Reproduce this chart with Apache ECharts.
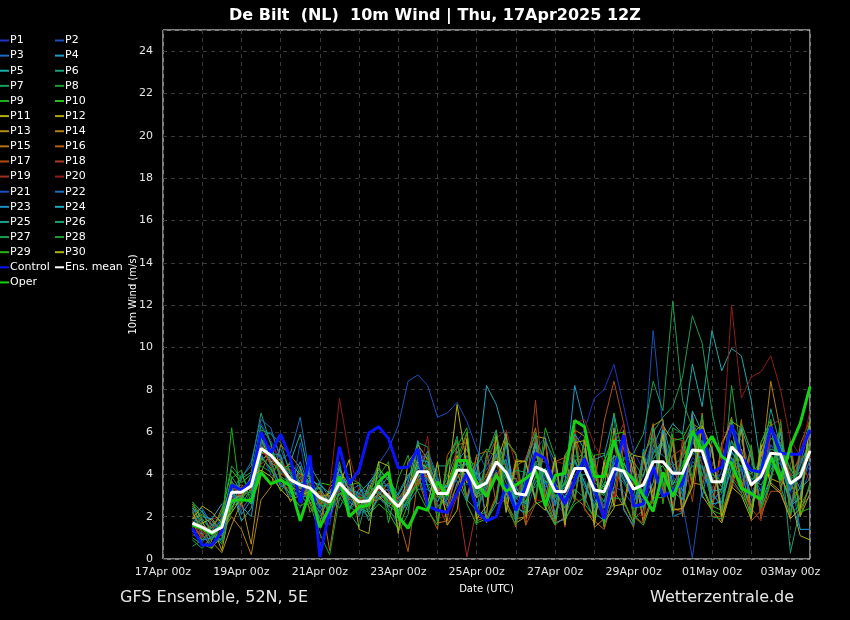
<!DOCTYPE html>
<html><head><meta charset="utf-8">
<script src="https://cdn.jsdelivr.net/npm/echarts@6/dist/echarts.min.js"></script>
<style>html,body{margin:0;padding:0;background:#000;}#c{width:850px;height:620px;}</style>
</head><body><div id="c"></div>
<script>
// Times: 6-hourly from 17Apr 18z (hours since 17Apr 00z)
const stepHours = 6, firstHour = 18, nSteps = 64;
const hours = Array.from({length: nSteps}, (_, i) => firstHour + stepHours * i);
const tickLabels = ['17Apr 00z','19Apr 00z','21Apr 00z','23Apr 00z','25Apr 00z','27Apr 00z','29Apr 00z','01May 00z','03May 00z'];
const memberNames = ['P1','P2','P3','P4','P5','P6','P7','P8','P9','P10','P11','P12','P13','P14','P15','P16','P17','P18','P19','P20','P21','P22','P23','P24','P25','P26','P27','P28','P29','P30'];
const memberColors = ['#2232c4','#1a4fb8','#1a6cc0','#1a9cc8','#1aacac','#1a9f7a','#1a9e5a','#1aa03a','#1ab01a','#28c010','#b4b010','#b4a410','#b49010','#b48010','#b47014','#b46014','#b04e14','#a84020','#a03020','#901c1c','#1a52c0','#1a70c0','#1a90c4','#1aa8c0','#1aa090','#1aa070','#1aa050','#1aa030','#22b514','#b0b010'];

const P1 = [1.4,0.6,0.9,1.8, 3.6,2.9,3.8,6.4, 5.6,4.6,3.2,2.4, 3.8,2.2,1.6,4.2, 3.5,2.1,2.4,4.0, 3.3,1.9,2.8,3.6, 4.6,2.4,3.0,4.8, 4.4,2.6,3.1,5.2, 4.9,3.6,2.5,5.1, 5.8,4.1,3.9,5.4, 6.1,7.6,8.0,9.2, 7.2,5.1,4.2,5.8, 5.2,3.9,3.4,4.8, 4.4,2.8,3.1,4.6, 4.1,2.9,3.3,5.4, 5.0,3.1,3.6,4.4];
const P2 = [2.0,1.1,0.7,1.2, 2.9,3.4,2.6,5.8, 6.0,4.9,3.5,4.1, 3.0,2.4,2.1,3.1, 2.6,3.3,3.1,2.9, 2.4,1.6,3.8,4.6, 3.7,3.4,2.6,3.9, 3.5,4.0,3.2,4.2, 3.4,2.6,2.0,3.7, 3.6,2.7,2.1,3.6, 3.8,2.2,2.8,3.4, 3.2,2.5,4.6,10.8, 6.2,3.9,2.6,0.05, 3.4,2.4,2.9,4.3, 3.9,2.7,3.1,4.5, 4.1,2.6,3.0,4.2];
const P3 = [1.6,1.9,1.4,0.8, 2.6,3.1,3.9,5.6, 4.4,5.2,4.1,3.9, 2.9,3.4,2.2,2.8, 3.8,2.0,3.6,3.9, 3.4,2.9,2.3,4.9, 4.8,3.7,2.6,3.4, 4.9,3.8,4.4,5.3, 3.9,2.8,3.5,5.0, 3.7,2.2,3.0,3.7, 4.8,2.9,1.9,4.1, 3.6,2.8,3.3,5.1, 5.4,3.6,2.8,4.6, 4.3,3.1,4.2,6.3, 5.6,4.1,3.2,4.4, 4.8,4.0,1.4,1.4];
const P4 = [2.4,1.7,1.2,1.9, 3.0,2.5,2.0,4.9, 4.2,3.6,3.1,4.4, 2.6,3.1,2.2,3.5, 2.3,3.3,2.9,3.3, 3.9,2.8,3.6,5.6, 3.4,2.5,2.8,4.6, 5.2,3.9,3.1,4.0, 3.3,2.2,3.8,5.6, 4.7,2.6,3.6,8.2, 6.3,3.1,2.4,4.9, 3.8,2.7,4.0,5.3, 6.4,4.5,3.2,5.6, 4.5,2.7,3.3,5.1, 4.3,2.1,4.4,6.1, 4.6,3.2,4.4,5.6];
const P5 = [1.3,1.2,1.6,2.1, 3.4,1.8,2.4,4.6, 5.1,4.0,4.6,5.9, 3.7,2.5,3.2,3.9, 2.7,2.4,2.2,2.9, 3.1,2.0,3.3,3.8, 4.5,3.2,3.5,4.4, 3.9,2.9,4.6,5.7, 4.4,3.4,2.6,3.9, 3.6,3.6,2.9,3.8, 4.0,3.8,3.4,3.9, 4.5,3.7,2.9,5.0, 5.6,6.4,5.9,9.2, 7.2,10.8,8.9,9.95, 9.6,7.5,4.3,4.8, 4.1,2.6,3.4,4.7];
const P6 = [2.7,2.2,1.8,1.3, 2.2,3.9,4.4,6.9, 5.4,3.9,3.6,2.7, 4.4,3.6,2.9,2.4, 3.4,2.9,1.8,3.2, 2.6,3.1,4.0,4.3, 3.9,2.7,3.9,5.1, 3.6,4.1,3.3,3.9, 4.7,2.4,3.4,4.6, 4.6,3.6,2.4,4.7, 3.6,2.5,3.6,3.8, 4.8,4.6,3.9,5.7, 3.9,4.4,4.8,5.7, 6.1,3.2,2.4,4.8, 3.7,2.3,4.8,6.3, 5.3,0.3,2.4,3.0];
const P7 = [0.9,0.5,1.1,1.7, 3.9,3.2,3.0,6.1, 5.9,5.5,4.0,3.1, 2.4,2.0,2.9,4.6, 2.2,1.5,3.2,4.1, 2.3,1.8,2.9,4.4, 4.4,3.6,3.4,3.8, 4.6,3.1,3.8,4.8, 3.6,2.9,3.2,3.4, 4.3,2.9,3.4,4.9, 4.5,3.4,2.7,4.6, 3.7,3.0,4.8,6.0, 6.7,7.2,8.6,11.5, 10.2,7.0,4.7,6.1, 4.6,3.8,3.5,4.2, 5.2,3.9,4.1,5.6];
const P8 = [2.5,1.5,0.6,1.0, 3.1,4.0,3.1,5.4, 4.6,4.1,4.4,3.6, 3.2,3.4,2.5,3.3, 3.0,2.6,2.3,3.7, 2.7,2.2,3.0,3.4, 4.9,3.8,2.8,4.0, 4.0,3.2,3.4,5.4, 4.3,3.3,2.9,4.9, 4.0,2.9,3.6,3.9, 4.9,3.3,3.0,4.5, 4.0,3.9,3.1,5.0, 5.4,4.0,4.6,4.9, 5.6,3.9,3.1,8.2, 4.9,3.8,3.9,4.5, 5.4,3.3,4.9,6.5];
const P9 = [1.8,1.4,1.0,1.6, 6.2,2.6,3.3,4.8, 4.3,4.6,3.1,3.9, 3.6,2.6,3.2,3.0, 3.8,3.6,3.0,3.6, 2.9,2.1,2.7,3.6, 3.5,2.9,3.5,4.7, 6.0,2.1,2.2,5.3, 2.7,1.8,4.5,2.9, 6.2,4.8,1.9,2.6, 2.9,4.9,5.0,2.7, 5.7,1.9,2.3,6.3, 2.6,5.9,2.3,3.7, 6.8,2.5,2.3,6.6, 3.2,5.4,2.2,3.9, 4.9,3.9,2.0,3.6];
const P10 = [2.2,1.3,1.5,2.2, 4.2,3.6,4.0,5.0, 5.2,3.8,3.0,2.5, 2.8,3.6,3.5,4.2, 3.5,3.6,2.1,2.6, 2.2,1.4,2.6,3.9, 4.2,2.2,3.2,4.1, 4.7,4.4,5.2,4.8, 3.8,3.8,2.7,3.9, 3.7,3.4,3.5,4.6, 5.1,3.6,3.3,6.9, 4.6,3.4,3.0,4.2, 4.4,3.5,4.4,6.0, 6.3,4.1,3.4,4.6, 4.4,4.0,4.6,5.7, 5.5,4.2,4.6,5.3];
const P11 = [1.5,1.7,1.9,1.3, 2.4,3.3,3.8,5.7, 4.6,4.7,3.4,3.2, 3.0,3.1,2.6,4.3, 3.2,2.2,3.5,3.0, 2.5,2.9,3.3,4.6, 4.3,3.3,3.4,7.3, 4.4,2.9,3.3,4.5, 5.9,1.7,2.0,5.4, 2.5,1.6,4.7,5.9, 2.8,4.6,1.7,2.4, 5.8,4.5,1.8,3.0, 6.0,2.1,5.3,6.1, 3.0,2.3,1.7,3.4, 6.2,2.2,5.2,6.4, 3.9,2.9,1.1,0.9];
const P12 = [1.9,2.1,1.6,0.4, 2.8,3.0,3.6,4.7, 5.0,4.2,4.5,4.0, 3.9,3.3,2.0,3.7, 3.1,2.8,2.6,3.1, 2.8,2.3,3.2,5.4, 4.7,3.0,3.6,4.9, 3.6,3.7,3.1,4.1, 3.0,4.5,1.6,5.8, 5.7,1.8,4.9,2.9, 5.6,4.5,1.5,6.2, 2.7,1.7,5.0,3.1, 6.3,5.6,2.2,6.2, 3.4,2.3,5.4,6.5, 6.2,1.9,5.1,3.8, 3.6,5.1,2.1,6.6];
const P13 = [2.6,1.8,0.8,0.3, 1.6,2.7,0.7,4.1, 5.1,3.9,2.7,3.4, 2.7,1.7,3.4,3.8, 2.9,2.4,3.3,4.3, 3.7,2.7,3.4,4.4, 3.8,3.0,2.5,4.1, 2.8,4.9,1.7,2.9, 6.0,1.9,2.0,5.6, 2.9,4.8,1.6,6.1, 5.8,1.5,1.9,3.2, 2.5,4.4,1.7,6.3, 6.6,2.2,5.6,3.6, 3.5,2.4,5.5,6.4, 3.6,2.3,5.0,3.6, 3.2,5.3,2.0,3.1];
const P14 = [2.3,1.2,0.5,1.3, 2.0,1.4,0.2,2.8, 3.4,5.4,4.9,4.3, 2.2,2.8,3.0,3.2, 2.4,3.0,2.5,3.0, 3.6,2.6,2.9,3.7, 4.0,3.4,2.1,3.6, 3.8,3.0,4.0,5.0, 2.6,4.7,4.6,2.8, 5.6,1.7,1.9,5.9, 2.4,1.7,4.4,2.7, 6.1,1.8,5.0,2.6, 3.3,5.5,2.0,6.4, 6.1,5.2,1.8,3.3, 5.2,3.4,4.2,8.4, 6.0,3.5,2.8,5.6];
const P15 = [1.7,0.9,1.3,2.4, 3.3,3.5,3.2,5.3, 4.5,4.4,4.2,3.8, 3.0,3.2,0.4,3.4, 3.3,2.5,2.7,2.8, 3.1,2.2,3.5,4.0, 5.1,1.7,1.8,5.4, 5.5,1.8,2.0,6.1, 2.3,4.4,4.7,6.2, 3.0,1.7,4.4,2.9, 2.5,4.9,1.8,5.7, 2.4,1.5,4.6,6.4, 3.2,5.6,2.3,3.5, 6.9,2.4,5.3,6.7, 3.3,5.2,1.9,3.7, 6.2,1.9,5.0,6.0];
const P16 = [2.1,1.6,1.2,1.1, 3.7,2.8,3.5,5.0, 4.9,4.3,3.6,3.7, 3.4,2.7,2.6,3.5, 2.8,2.9,2.4,3.5, 3.2,2.0,0.35,3.8, 2.4,1.4,4.9,5.6, 2.9,4.9,5.1,2.6, 2.8,1.5,4.6,5.9, 2.7,4.6,4.8,2.7, 5.7,1.8,1.4,3.0, 5.3,4.9,1.9,2.8, 6.1,2.4,2.3,6.9, 3.4,5.2,2.2,3.7, 6.6,1.8,2.3,6.5, 3.3,5.6,2.3,3.4];
const P17 = [1.4,1.1,1.7,1.9, 3.0,3.4,3.3,4.5, 4.8,4.0,3.9,3.3, 3.5,2.6,2.8,3.9, 3.0,2.7,3.1,3.6, 2.9,2.6,3.1,3.9, 3.9,3.3,3.3,4.4, 5.9,2.0,1.9,3.0, 5.6,4.9,1.6,2.6, 5.6,1.6,2.0,5.8, 4.6,3.5,6.5,8.4, 6.4,3.5,3.6,4.5, 3.0,5.7,5.6,3.4, 6.7,2.0,2.0,3.6, 6.4,5.1,2.1,3.2, 3.2,2.0,5.4,6.6];
const P18 = [1.1,1.4,1.5,1.6, 2.9,3.1,3.7,5.4, 4.4,3.5,3.3,2.9, 3.1,3.0,2.4,3.7, 3.4,2.3,2.6,3.3, 2.7,2.9,3.4,3.5, 4.2,3.5,3.0,4.0, 3.7,3.5,3.9,4.8, 4.4,3.8,2.9,7.5, 2.4,1.6,4.6,6.3, 2.6,4.8,2.0,2.6, 5.5,2.0,1.7,5.9, 2.8,4.9,5.2,2.7, 6.3,2.2,5.4,3.6, 3.1,5.0,2.0,6.0, 5.7,3.9,4.9,4.6];
const P19 = [1.8,1.0,1.9,2.0, 3.2,2.4,2.9,5.5, 5.3,4.8,3.8,4.0, 3.3,3.1,2.9,3.2, 3.6,3.0,2.9,3.6, 3.0,2.5,3.5,4.1, 4.3,2.6,1.6,3.0, 0.1,2.4,3.2,4.6, 2.5,1.6,4.8,5.6, 2.6,4.5,1.5,6.0, 2.3,1.9,4.4,5.4, 6.4,2.0,1.6,3.0, 6.3,2.4,2.2,6.8, 3.6,5.4,2.0,3.9, 3.3,2.4,1.8,6.3, 6.6,2.5,4.8,3.6];
const P20 = [1.6,1.3,1.0,1.4, 3.4,3.0,3.4,5.3, 4.7,4.2,3.5,3.4, 3.6,2.8,3.3,7.6, 4.9,3.2,2.7,3.4, 2.9,2.8,3.0,3.9, 5.8,1.9,2.1,5.6, 2.6,1.7,4.6,5.7, 6.1,4.4,1.8,2.8, 2.7,4.6,4.5,6.4, 6.6,5.4,4.6,2.8, 5.5,2.2,2.0,6.0, 3.4,2.4,5.6,6.2, 4.5,3.2,4.8,12.0, 7.6,8.6,8.85,9.6, 8.0,5.6,4.9,7.0];
const P21 = [1.2,0.8,1.3,2.0, 3.2,2.3,3.0,5.0, 4.0,3.6,2.9,5.5, 2.8,3.7,1.9,3.3, 2.9,2.2,3.4,4.5, 5.2,6.3,8.4,8.7, 8.2,6.7,6.9,7.4, 6.5,5.2,4.2,5.0, 3.9,2.4,3.6,4.0, 3.4,3.9,2.8,3.5, 4.5,3.4,2.5,4.6, 4.0,2.8,3.3,4.3, 3.6,3.9,4.5,5.0, 4.8,3.8,4.0,4.7, 4.3,3.6,4.1,5.4, 4.6,3.4,3.8,4.6];
const P22 = [2.2,2.4,1.6,1.5, 2.7,3.8,4.6,6.6, 6.2,4.7,5.0,6.7, 3.9,2.4,2.8,3.5, 3.2,3.5,2.5,3.1, 3.3,2.7,3.4,4.3, 5.1,3.9,2.4,3.2, 4.1,2.4,3.4,4.4, 4.7,2.1,3.1,4.5, 3.6,2.5,4.4,4.6, 3.4,2.7,3.2,4.7, 4.1,3.0,2.8,5.2, 4.9,4.4,3.0,6.5, 5.5,3.0,2.6,5.6, 4.1,3.1,4.0,4.7, 4.2,3.3,4.5,6.3];
const P23 = [1.3,0.9,1.0,1.2, 3.4,2.1,2.8,6.0, 4.6,3.4,3.6,4.6, 3.2,1.9,2.1,4.4, 2.4,3.1,2.8,3.4, 3.5,2.3,2.6,3.3, 3.3,2.7,3.5,3.7, 2.7,4.5,1.8,2.6, 5.5,1.8,4.6,5.9, 2.4,1.7,1.9,5.6, 2.7,4.7,4.9,6.8, 2.3,1.6,5.2,2.7, 6.1,2.0,2.2,6.8, 2.9,5.3,2.3,6.6, 4.6,3.0,3.8,4.8, 4.5,2.9,1.4,1.4];
const P24 = [2.4,2.0,1.9,2.6, 2.6,3.0,2.6,5.2, 4.9,4.5,4.0,3.6, 3.7,3.5,3.1,4.0, 3.3,3.1,3.6,4.2, 3.8,3.0,3.9,4.7, 4.6,3.5,3.4,4.4, 4.5,4.0,8.2,7.3, 5.6,2.4,2.2,5.5, 3.3,1.9,4.4,5.9, 5.2,2.2,1.8,3.4, 5.7,4.1,2.4,3.6, 6.1,3.2,2.8,7.0, 6.0,2.6,2.7,4.3, 6.2,4.8,2.6,3.9, 6.0,2.5,2.9,6.6];
const P25 = [1.6,2.3,1.1,0.9, 3.1,2.8,3.6,5.7, 5.0,4.9,3.2,3.0, 2.9,2.2,3.0,3.6, 3.7,2.4,2.0,2.9, 2.5,2.2,2.8,4.4, 3.5,3.6,3.2,4.5, 4.1,3.1,3.7,4.9, 4.0,2.6,2.7,3.6, 4.2,2.7,3.7,4.7, 3.6,2.4,3.9,4.9, 4.5,3.8,3.2,4.7, 5.5,3.6,3.7,4.4, 4.4,3.2,3.3,5.0, 4.6,4.1,4.3,7.1, 5.3,4.3,3.3,3.8];
const P26 = [2.0,1.6,0.9,1.8, 3.6,3.3,3.1,5.5, 5.2,4.3,3.6,3.4, 3.4,3.3,2.7,3.4, 2.5,2.1,3.0,3.7, 2.6,2.7,3.1,4.0, 2.6,4.4,4.4,5.8, 2.8,2.3,4.9,6.1, 2.8,4.2,4.1,2.9, 5.6,4.6,2.0,3.3, 2.9,1.9,4.6,5.6, 5.6,2.4,2.5,6.2, 3.6,2.2,5.0,6.5, 3.9,5.6,4.9,3.8, 3.1,2.2,5.5,6.3, 3.4,2.1,5.1,6.0];
const P27 = [0.6,0.9,1.5,2.2, 4.4,3.8,4.1,6.3, 5.5,3.7,3.4,4.2, 3.5,2.5,2.6,3.4, 2.9,2.9,2.9,3.2, 2.6,2.7,3.0,4.5, 4.2,3.4,3.2,4.3, 4.2,3.0,3.5,4.5, 4.3,2.9,2.4,4.6, 3.9,3.0,3.2,4.3, 4.3,3.2,3.1,4.5, 4.7,5.0,5.9,8.4, 7.0,12.2,7.5,6.2, 5.4,4.0,3.7,5.6, 4.6,3.7,4.2,5.2, 5.0,3.8,4.1,5.3];
const P28 = [2.7,1.9,1.3,0.7, 2.5,2.7,4.0,4.4, 4.1,4.5,4.1,3.6, 2.6,1.2,0.2,2.9, 2.3,2.8,3.2,3.9, 4.6,1.3,2.1,5.5, 5.3,1.8,4.4,5.6, 2.6,1.6,4.9,5.9, 2.5,1.6,4.4,6.0, 2.6,4.6,1.8,2.8, 5.8,4.7,1.6,2.9, 2.8,1.7,5.0,5.7, 3.4,6.2,5.9,3.8, 6.8,2.0,1.9,3.8, 6.4,5.1,2.4,3.6, 6.5,2.2,2.5,3.4];
const P29 = [1.0,0.7,0.5,1.9, 3.8,4.2,2.6,4.8, 4.3,3.2,3.9,3.3, 3.9,2.8,2.3,3.1, 3.1,2.5,2.8,4.6, 1.7,3.8,4.9,3.2, 2.3,1.6,4.6,5.3, 6.2,1.7,1.9,2.8, 5.6,5.0,2.1,2.6, 2.8,1.6,4.9,5.7, 2.6,2.0,4.6,5.9, 6.0,2.1,1.6,2.9, 2.9,5.6,5.7,6.6, 3.5,2.3,2.1,6.6, 3.4,2.0,5.5,6.6, 3.7,5.1,2.2,2.4];
const P30 = [1.9,2.5,2.2,1.7, 2.2,2.9,3.9,4.2, 3.9,3.3,2.8,3.0, 3.2,2.9,3.1,3.5, 4.7,1.4,1.2,4.6, 4.4,1.2,4.6,5.2, 2.6,4.6,1.6,2.3, 5.7,1.9,2.5,5.8, 2.2,4.6,4.6,2.7, 2.3,4.8,1.6,5.5, 5.6,1.6,4.6,2.5, 2.6,4.9,4.8,2.8, 5.9,2.3,2.4,3.4, 6.3,5.2,2.0,3.4, 3.0,1.9,5.4,3.5, 3.1,1.9,2.4,6.5];
const members = [P1,P2,P3,P4,P5,P6,P7,P8,P9,P10,P11,P12,P13,P14,P15,P16,P17,P18,P19,P20,P21,P22,P23,P24,P25,P26,P27,P28,P29,P30];

const control = [1.45,0.66,0.66,1.3, 3.5,3.25,3.7,6.0, 5.0,5.9,4.75,2.65, 4.9,0.1,2.3,5.3, 3.55,4.2,5.95,6.25, 5.7,4.3,4.35,5.2, 2.5,2.3,2.2,3.1, 4.05,2.3,1.8,2.0, 3.5,2.3,3.4,5.0, 4.75,3.4,2.6,3.75, 4.75,3.4,1.9,4.05, 5.85,2.5,2.6,4.36, 2.95,3.25,3.55,5.78, 6.1,4.1,4.35,6.33, 4.83,4.2,4.1,6.25, 5.0,4.95,4.95,6.1];
const oper = [1.6,1.45,1.2,1.6, 2.75,2.8,2.75,4.1, 3.55,3.75,3.45,1.8, 3.25,1.5,2.45,3.9, 2.0,2.45,2.55,3.65, 4.1,2.0,1.45,2.45, 2.3,3.65,3.0,4.65, 4.65,3.6,2.95,3.95, 3.2,3.5,3.8,4.2, 2.5,3.95,4.05,6.55, 6.25,3.9,3.9,5.6, 4.2,3.75,3.0,2.25, 4.1,2.95,4.0,6.05, 5.15,5.8,4.85,4.5, 3.35,3.1,2.8,4.85, 3.75,5.3,6.4,8.15];
const ensMean = [1.7,1.5,1.25,1.5, 3.15,3.15,3.45,5.22, 4.9,4.4,3.75,3.5, 3.35,2.9,2.7,3.6, 3.1,2.7,2.75,3.45, 2.95,2.47,3.15,4.12, 4.12,3.1,3.1,4.2, 4.2,3.35,3.6,4.6, 4.1,3.1,3.02,4.35, 4.15,3.2,3.18,4.28, 4.28,3.26,3.18,4.28, 4.15,3.3,3.5,4.6, 4.6,4.05,4.05,5.15, 5.1,3.65,3.65,5.3, 4.8,3.5,3.9,5.0, 4.95,3.57,3.9,5.1];

const FONT = 'DejaVu Sans';
const pair = arr => arr.map((v, i) => [hours[i], v]);
const series = [];
members.forEach((arr, i) => series.push({
  name: memberNames[i], type: 'line', data: pair(arr), showSymbol: false, symbol: 'none',
  color: memberColors[i], lineStyle: {width: 1, color: memberColors[i]}, z: 2
}));
series.push({name: 'Control', type: 'line', data: pair(control), symbol: 'none', color: '#0a14ff', lineStyle: {width: 3, color: '#0a14ff'}, z: 3});
series.push({name: 'Oper', type: 'line', data: pair(oper), symbol: 'none', color: '#14d214', lineStyle: {width: 3, color: '#14d214'}, z: 4});
series.push({name: 'Ens. mean', type: 'line', data: pair(ensMean), symbol: 'none', color: '#ffffff', lineStyle: {width: 3, color: '#ffffff'}, z: 5});

const col1 = memberNames.filter((_, i) => i % 2 === 0).concat(['Control', 'Oper']);
const col2 = memberNames.filter((_, i) => i % 2 === 1).concat(['Ens. mean']);
const legendBase = {
  orient: 'vertical', top: 33, itemWidth: 9, itemHeight: 2, itemGap: 0.12, icon: 'rect',
  selectedMode: false, padding: 0,
  textStyle: {color: '#ffffff', fontSize: 11, fontFamily: FONT, lineHeight: 15, padding: [0, 0, 0, -4]}
};

const chart = echarts.init(document.getElementById('c'), null, {renderer: 'canvas'});
chart.setOption({
  backgroundColor: '#000000',
  animation: false,
  title: {
    text: 'De Bilt  (NL)  10m Wind | Thu, 17Apr2025 12Z', left: 224, top: 3,
    textStyle: {color: '#ffffff', fontSize: 16, fontWeight: 'bold', fontFamily: FONT}
  },
  legend: [Object.assign({}, legendBase, {left: 0, data: col1}), Object.assign({}, legendBase, {left: 55, data: col2})],
  grid: {left: 163, top: 30, right: 40, bottom: 61, show: true, borderColor: '#ffffff', borderWidth: 1, backgroundColor: 'transparent'},
  xAxis: {
    type: 'value', min: 0, max: 396, interval: 24,
    name: 'Date (UTC)', nameLocation: 'middle', nameGap: 25,
    nameTextStyle: {color: '#ffffff', fontSize: 10, fontFamily: FONT},
    axisLine: {show: false}, axisTick: {show: false},
    axisLabel: {color: '#e6e6e6', fontSize: 11, fontFamily: FONT, margin: 8, showMaxLabel: false,
      formatter: v => (v % 48 === 0 ? (tickLabels[v / 48] || '') : '')},
    splitLine: {show: true, lineStyle: {color: '#3a3a3a', type: [4, 4], width: 1}}
  },
  yAxis: {
    type: 'value', min: 0, max: 25, interval: 2,
    name: '10m Wind (m/s)', nameLocation: 'middle', nameGap: 25, nameMoveOverlap: false,
    nameTextStyle: {color: '#ffffff', fontSize: 10, fontFamily: FONT},
    axisLine: {show: false}, axisTick: {show: false},
    axisLabel: {color: '#e6e6e6', fontSize: 11, fontFamily: FONT, margin: 10,
      formatter: v => (v > 24 ? '' : String(v))},
    splitLine: {show: true, lineStyle: {color: '#3a3a3a', type: [4, 4], width: 1}}
  },
  graphic: [
    {type: 'text', left: 120, top: 590, style: {text: 'GFS Ensemble, 52N, 5E', fill: '#e6e6e6', fontSize: 16, fontFamily: FONT}},
    {type: 'text', left: 650, top: 590, style: {text: 'Wetterzentrale.de', fill: '#e6e6e6', fontSize: 16, fontFamily: FONT}}
  ],
  series: series
});
</script></body></html>
